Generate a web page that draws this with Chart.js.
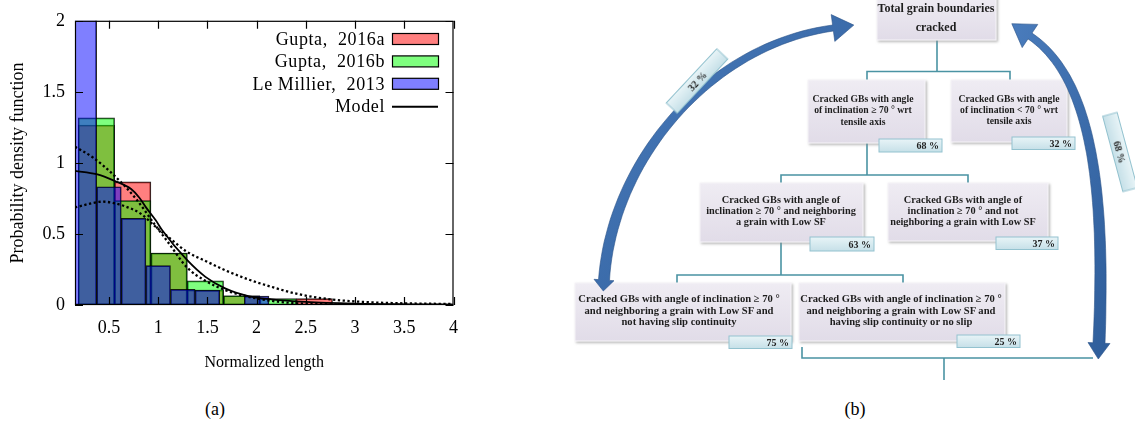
<!DOCTYPE html>
<html>
<head>
<meta charset="utf-8">
<script src="https://cdn.jsdelivr.net/npm/chart.js@4.4.0/dist/chart.umd.min.js"></script>
<style>
  body { margin: 0; background: #fff; width: 1135px; height: 426px; overflow: hidden; position: relative; font-family: "Liberation Serif", serif; }
  #histWrap { position: absolute; left: 0; top: 0; width: 470px; height: 375px; }
  .cap { position: absolute; top: 399px; width: 60px; text-align: center; font-size: 18px; color: #000; }
  #diagram { position: absolute; left: 0; top: 0; }
</style>
</head>
<body>
<div id="histWrap"><canvas id="histChart" width="470" height="375"></canvas></div>
<div class="cap" style="left:185px">(a)</div>
<div class="cap" style="left:825px">(b)</div>
<svg id="diagram" width="1135" height="426" xmlns="http://www.w3.org/2000/svg"></svg>
<script>
// histogram bins (bin centres, heights)
const guptaCentres = [0.3725, 0.7415, 1.1105, 1.4795, 1.8485, 2.2175, 2.5865, 2.9555];
const gupta2016a = [1.266, 0.867, 0.366, 0.105, 0.065, 0.0, 0.045, 0.0];
const gupta2016b = [1.317, 0.734, 0.366, 0.17, 0.065, 0.045, 0.0, 0.0];
const millierCentres = [0.25, 0.5, 0.75, 1.0, 1.25, 1.5, 1.75, 2.0, 2.25];
const leMillier2013 = [2.3, 0.832, 0.61, 0.277, 0.11, 0.105, 0.0, 0.062, 0.0];

// model curve and its two dotted bounds
const modelX = [0.155, 0.373, 0.557, 0.725, 0.809, 0.876, 0.977, 1.043, 1.295, 1.48, 1.68, 1.916, 2.15, 2.5, 3.0, 3.5, 4.0];
const modelY = [0.944, 0.921, 0.874, 0.816, 0.755, 0.687, 0.594, 0.524, 0.315, 0.198, 0.117, 0.063, 0.04, 0.022, 0.01, 0.005, 0.003];
const narrowX = [0.155, 0.339, 0.557, 0.776, 0.96, 1.1, 1.295, 1.48, 1.68, 1.916, 2.22, 2.42, 2.8, 3.2, 4.0];
const narrowY = [1.114, 1.037, 0.909, 0.746, 0.571, 0.442, 0.263, 0.17, 0.105, 0.058, 0.023, 0.012, 0.004, 0.001, 0.0];
const wideX = [0.155, 0.44, 0.64, 0.826, 0.96, 1.1, 1.295, 1.48, 1.68, 1.916, 2.15, 2.42, 2.75, 3.16, 3.49, 3.99];
const wideY = [0.687, 0.727, 0.70, 0.641, 0.559, 0.48, 0.373, 0.31, 0.245, 0.18, 0.128, 0.077, 0.04, 0.019, 0.012, 0.007];

const xMin = 0.155, xMax = 4;
const xTicks = [0.5, 1, 1.5, 2, 2.5, 3, 3.5, 4];
const xTickLabels = ['0.5', '1', '1.5', '2', '2.5', '3', '3.5', '4'];
const yTicks = [0, 0.5, 1, 1.5, 2];
const yTickLabels = ['0', '0.5', '1', '1.5', '2'];

const serif = '"Liberation Serif", "Times New Roman", serif';
Chart.defaults.font.family = serif;
Chart.defaults.font.size = 18;
Chart.defaults.color = '#000';

const pts = (xs, ys) => xs.map((x, i) => ({ x: x, y: ys[i] }));

function hiddenX() {
  return {
    type: 'linear', display: false, min: xMin, max: xMax, offset: false,
    afterBuildTicks: s => { s.ticks = [{ value: xMin }, { value: xMax }]; }
  };
}

// gnuplot style frame, inward ticks and the legend box
const gnuFrame = {
  id: 'gnuFrame',
  afterDraw(chart) {
    const { ctx, chartArea: a, scales } = chart;
    ctx.save();
    ctx.strokeStyle = '#000';
    ctx.lineWidth = 1.2;
    ctx.strokeRect(a.left + 0.5, a.top + 0.5, a.right - a.left - 1, a.bottom - a.top - 1);
    ctx.beginPath();
    xTicks.forEach(v => {
      const px = Math.round(scales.x.getPixelForValue(v)) + 0.5;
      ctx.moveTo(px, a.bottom); ctx.lineTo(px, a.bottom - 8);
      ctx.moveTo(px, a.top); ctx.lineTo(px, a.top + 8);
    });
    yTicks.forEach(v => {
      const py = Math.round(scales.y.getPixelForValue(v)) + 0.5;
      ctx.moveTo(a.left, py); ctx.lineTo(a.left + 8, py);
      ctx.moveTo(a.right, py); ctx.lineTo(a.right - 8, py);
    });
    ctx.stroke();

    // legend
    const items = chart.data.datasets.filter(d => d.legendRow !== undefined)
      .sort((p, q) => p.legendRow - q.legendRow);
    ctx.font = '18px ' + serif;
    ctx.letterSpacing = '0.6px';
    ctx.textAlign = 'right';
    ctx.textBaseline = 'middle';
    ctx.fillStyle = '#000';
    items.forEach((d, i) => {
      const y = 39 + i * 22.4;
      ctx.fillText(d.label.replace(', ', ',  '), 385, y + 1);
      if (d.type === 'line') {
        ctx.beginPath();
        ctx.lineWidth = 2;
        ctx.moveTo(392, y + 0.5); ctx.lineTo(438, y + 0.5);
        ctx.stroke();
      } else {
        ctx.fillStyle = d.backgroundColor;
        ctx.fillRect(392, y - 5.5, 46, 11);
        ctx.lineWidth = 1.2;
        ctx.strokeRect(392.5, y - 5.5, 46, 11);
        ctx.fillStyle = '#000';
      }
    });
    ctx.restore();
  }
};

const barCommon = {
  type: 'bar', borderColor: 'rgba(0,0,0,0.85)', borderWidth: 1, borderSkipped: false,
  barPercentage: 1, categoryPercentage: 1, grouped: false, yAxisID: 'y'
};
const lineCommon = {
  type: 'line', xAxisID: 'x', yAxisID: 'y', borderColor: '#000', pointRadius: 0,
  fill: false, cubicInterpolationMode: 'monotone'
};

new Chart(document.getElementById('histChart'), {
  type: 'bar',
  data: {
    datasets: [
      Object.assign({}, lineCommon, { label: 'Model', data: pts(modelX, modelY), borderWidth: 1.8, order: 0, legendRow: 3 }),
      Object.assign({}, lineCommon, { label: 'upper', data: pts(narrowX, narrowY), borderWidth: 2.3, borderDash: [2.3, 2.5], order: 0 }),
      Object.assign({}, lineCommon, { label: 'lower', data: pts(wideX, wideY), borderWidth: 2.3, borderDash: [2.3, 2.5], order: 0 }),
      Object.assign({}, barCommon, { label: 'Le Millier, 2013', xAxisID: 'xm', data: pts(millierCentres, leMillier2013), backgroundColor: 'rgba(0,0,255,0.5)', order: 1, legendRow: 2 }),
      Object.assign({}, barCommon, { label: 'Gupta, 2016b', xAxisID: 'xb', data: pts(guptaCentres, gupta2016b), backgroundColor: 'rgba(0,255,0,0.5)', order: 2, legendRow: 1 }),
      Object.assign({}, barCommon, { label: 'Gupta, 2016a', xAxisID: 'xa', data: pts(guptaCentres, gupta2016a), backgroundColor: 'rgba(255,0,0,0.5)', order: 3, legendRow: 0 })
    ]
  },
  options: {
    responsive: false,
    animation: false,
    devicePixelRatio: 1,
    layout: { padding: { top: 19, right: 13, left: 0, bottom: 0 } },
    plugins: { legend: { display: false }, tooltip: { enabled: false } },
    scales: {
      x: {
        type: 'linear', position: 'bottom', min: xMin, max: xMax, offset: false,
        grid: { display: false, drawTicks: false },
        border: { display: false },
        afterBuildTicks: s => { s.ticks = xTicks.map(v => ({ value: v })); },
        afterFit: s => { s.height = 70; },
        ticks: { autoSkip: false, maxRotation: 0, minRotation: 0, padding: 12,
                 callback: (v, i) => xTickLabels[i] },
        title: { display: true, text: 'Normalized length', font: { size: 16 }, padding: { top: 0, bottom: 3 } }
      },
      xa: hiddenX(),
      xb: hiddenX(),
      xm: hiddenX(),
      y: {
        type: 'linear', min: 0, max: 2,
        grid: { display: false, drawTicks: false },
        border: { display: false },
        afterBuildTicks: s => { s.ticks = yTicks.map(v => ({ value: v })); },
        afterFit: s => { s.width = 75; },
        ticks: { autoSkip: false, padding: 10, callback: (v, i) => yTickLabels[i] },
        title: { display: true, text: 'Probability density function', font: { size: 18 }, padding: { top: 7, bottom: 0 } }
      }
    }
  },
  plugins: [gnuFrame]
});

// ---------- flow diagram (b) ----------
const NS = 'http://www.w3.org/2000/svg';
const svg = document.getElementById('diagram');
function el(tag, attrs, parent, text) {
  const e = document.createElementNS(NS, tag);
  for (const k in attrs) e.setAttribute(k, attrs[k]);
  if (text !== undefined) e.textContent = text;
  (parent || svg).appendChild(e);
  return e;
}

const defs = el('defs', {});
const g1 = el('linearGradient', { id: 'boxFill', x1: 0, y1: 0, x2: 0, y2: 1 }, defs);
el('stop', { offset: '0', 'stop-color': '#efecf3' }, g1);
el('stop', { offset: '1', 'stop-color': '#e1dce8' }, g1);
const g2 = el('linearGradient', { id: 'tagFill', x1: 0, y1: 0, x2: 0, y2: 1 }, defs);
el('stop', { offset: '0', 'stop-color': '#e8f4f7' }, g2);
el('stop', { offset: '1', 'stop-color': '#c6e0e8' }, g2);
const g3 = el('linearGradient', { id: 'arrowFill', x1: 0, y1: 0, x2: 1, y2: 1 }, defs);
el('stop', { offset: '0', 'stop-color': '#4a7cbc' }, g3);
el('stop', { offset: '1', 'stop-color': '#2e5d9a' }, g3);
const f = el('filter', { id: 'shadow', x: '-10%', y: '-10%', width: '130%', height: '140%' }, defs);
el('feDropShadow', { dx: 1.5, dy: 1.5, stdDeviation: 1, 'flood-color': '#8a8a8a', 'flood-opacity': 0.6 }, f);

// connectors
const connectors = [
  [[937, 40], [937, 71.5]], [[867, 80], [867, 71.5], [1010, 71.5], [1010, 80]],
  [[867, 143], [867, 175]], [[781, 183], [781, 175], [968, 175], [968, 183]],
  [[781, 242], [781, 275]], [[677, 283], [677, 275], [903, 275], [903, 283]],
  [[802, 347], [802, 358], [1093, 358]], [[944, 358], [944, 380]]
];
connectors.forEach(c => el('polyline', {
  points: c.map(p => p.join(',')).join(' '), fill: 'none', stroke: '#4a93a3', 'stroke-width': 1.6
}));

const boxes = [
  { x: 877, y: -6, w: 119, h: 46, cx: 936, size: 12, base: [12, 31], lines: ['Total grain boundaries', 'cracked'] },
  { x: 808, y: 80, w: 117, h: 63, cx: 863, size: 9.7, base: [102, 113.3, 124.5], lines: ['Cracked GBs with angle', 'of inclination \u2265 70 \u00b0 wrt', 'tensile axis'] },
  { x: 951, y: 80, w: 116, h: 62, cx: 1009, size: 9.7, base: [101.5, 112.8, 124], lines: ['Cracked GBs with angle', 'of inclination < 70 \u00b0 wrt', 'tensile axis'] },
  { x: 700, y: 183, w: 163, h: 59, cx: 781, size: 10.3, base: [202.8, 214.2, 225.2], lines: ['Cracked GBs with angle of', 'inclination \u2265 70 \u00b0 and neighboring', 'a grain with Low SF'] },
  { x: 888, y: 183, w: 160, h: 58, cx: 963, size: 10.3, base: [202.8, 214.2, 225.2], lines: ['Cracked GBs with angle of', 'inclination \u2265 70 \u00b0 and not', 'neighboring a grain with Low SF'] },
  { x: 575, y: 283, w: 216, h: 58, cx: 679, size: 10.6, base: [302, 313.5, 325], lines: ['Cracked GBs with angle of inclination \u2265 70 \u00b0', 'and neighboring a grain with Low SF and', 'not having slip continuity'] },
  { x: 799, y: 283, w: 206, h: 58, cx: 901, size: 10.6, base: [302, 313.5, 325], lines: ['Cracked GBs with angle of inclination \u2265 70 \u00b0', 'and neighboring a grain with Low SF and', 'having slip continuity or no slip'] }
];
boxes.forEach(b => {
  el('rect', { x: b.x, y: b.y, width: b.w, height: b.h, fill: 'url(#boxFill)', stroke: '#f6f4f8', 'stroke-width': 1, filter: 'url(#shadow)' });
  b.lines.forEach((t, i) => el('text', {
    x: b.cx, y: b.base[i], 'text-anchor': 'middle', 'font-family': serif, 'font-weight': 700,
    'font-size': b.size, fill: '#1e1e1e'
  }, svg, t));
});

const tags = [
  { x: 879, y: 139, w: 63, h: 13, text: '68 %' },
  { x: 1012, y: 137, w: 63, h: 12.5, text: '32 %' },
  { x: 810, y: 237, w: 64, h: 14, text: '63 %' },
  { x: 996, y: 237, w: 62, h: 12.5, text: '37 %' },
  { x: 729, y: 336, w: 63, h: 12.5, text: '75 %' },
  { x: 957, y: 335, w: 63, h: 12.5, text: '25 %' }
];
tags.forEach(t => {
  el('rect', { x: t.x, y: t.y, width: t.w, height: t.h, fill: 'url(#tagFill)', stroke: '#93c2cf', 'stroke-width': 1 });
  el('text', { x: t.x + t.w - 3, y: t.y + t.h / 2 + 3.6, 'text-anchor': 'end', 'font-family': serif,
    'font-weight': 700, 'font-size': 10, fill: '#1e1e1e' }, svg, t.text);
});

// curved block arrows
function cubicPt(P, t) {
  const u = 1 - t, a = u * u * u, b = 3 * u * u * t, c = 3 * u * t * t, d = t * t * t;
  return [a * P[0][0] + b * P[1][0] + c * P[2][0] + d * P[3][0],
          a * P[0][1] + b * P[1][1] + c * P[2][1] + d * P[3][1]];
}
function cubicTan(P, t) {
  const u = 1 - t;
  const dx = 3 * u * u * (P[1][0] - P[0][0]) + 6 * u * t * (P[2][0] - P[1][0]) + 3 * t * t * (P[3][0] - P[2][0]);
  const dy = 3 * u * u * (P[1][1] - P[0][1]) + 6 * u * t * (P[2][1] - P[1][1]) + 3 * t * t * (P[3][1] - P[2][1]);
  const l = Math.hypot(dx, dy);
  return [dx / l, dy / l];
}
function arrowD(P, w0, w1, h0, h1) {
  const N = 48, L = [], R = [];
  for (let i = 0; i <= N; i++) {
    const t = i / N, p = cubicPt(P, t), d = cubicTan(P, t), n = [-d[1], d[0]];
    const w = (w0 + (w1 - w0) * t) / 2;
    L.push([p[0] + n[0] * w, p[1] + n[1] * w]);
    R.push([p[0] - n[0] * w, p[1] - n[1] * w]);
  }
  const d0 = cubicTan(P, 0), n0 = [-d0[1], d0[0]], p0 = P[0];
  const d1 = cubicTan(P, 1), n1 = [-d1[1], d1[0]], p1 = P[3];
  const out = [];
  out.push([p0[0] + n0[0] * h0.w / 2, p0[1] + n0[1] * h0.w / 2]);
  out.push(...L);
  out.push([p1[0] + n1[0] * h1.w / 2, p1[1] + n1[1] * h1.w / 2]);
  out.push([p1[0] + d1[0] * h1.l, p1[1] + d1[1] * h1.l]);
  out.push([p1[0] - n1[0] * h1.w / 2, p1[1] - n1[1] * h1.w / 2]);
  out.push(...R.reverse());
  out.push([p0[0] - n0[0] * h0.w / 2, p0[1] - n0[1] * h0.w / 2]);
  out.push([p0[0] - d0[0] * h0.l, p0[1] - d0[1] * h0.l]);
  return 'M' + out.map(p => p[0].toFixed(1) + ',' + p[1].toFixed(1)).join(' L') + ' Z';
}
el('path', { d: arrowD([[604, 280], [612, 160], [710, 45], [833, 28]], 11, 6, { w: 20, l: 11 }, { w: 27, l: 21 }),
  fill: 'url(#arrowFill)', stroke: '#2a5288', 'stroke-width': 0.6 });
el('path', { d: arrowD([[1099, 343], [1105, 200], [1095, 80], [1030, 36]], 12, 7, { w: 22, l: 16 }, { w: 28, l: 22 }),
  fill: 'url(#arrowFill)', stroke: '#2a5288', 'stroke-width': 0.6 });

// rotated share labels on the arrows
[{ cx: 697, cy: 81, w: 74, h: 15, rot: -47, text: '32 %' },
 { cx: 1120, cy: 152, w: 78, h: 15, rot: 75, text: '68 %' }].forEach(r => {
  const g = el('g', { transform: 'translate(' + r.cx + ',' + r.cy + ') rotate(' + r.rot + ')' });
  el('rect', { x: -r.w / 2, y: -r.h / 2, width: r.w, height: r.h, fill: 'url(#tagFill)', stroke: '#93c2cf', 'stroke-width': 1 }, g);
  el('text', { x: 0, y: 3.6, 'text-anchor': 'middle', 'font-family': serif, 'font-weight': 700,
    'font-size': 10, fill: '#1e1e1e' }, g, r.text);
});
</script>
</body>
</html>
